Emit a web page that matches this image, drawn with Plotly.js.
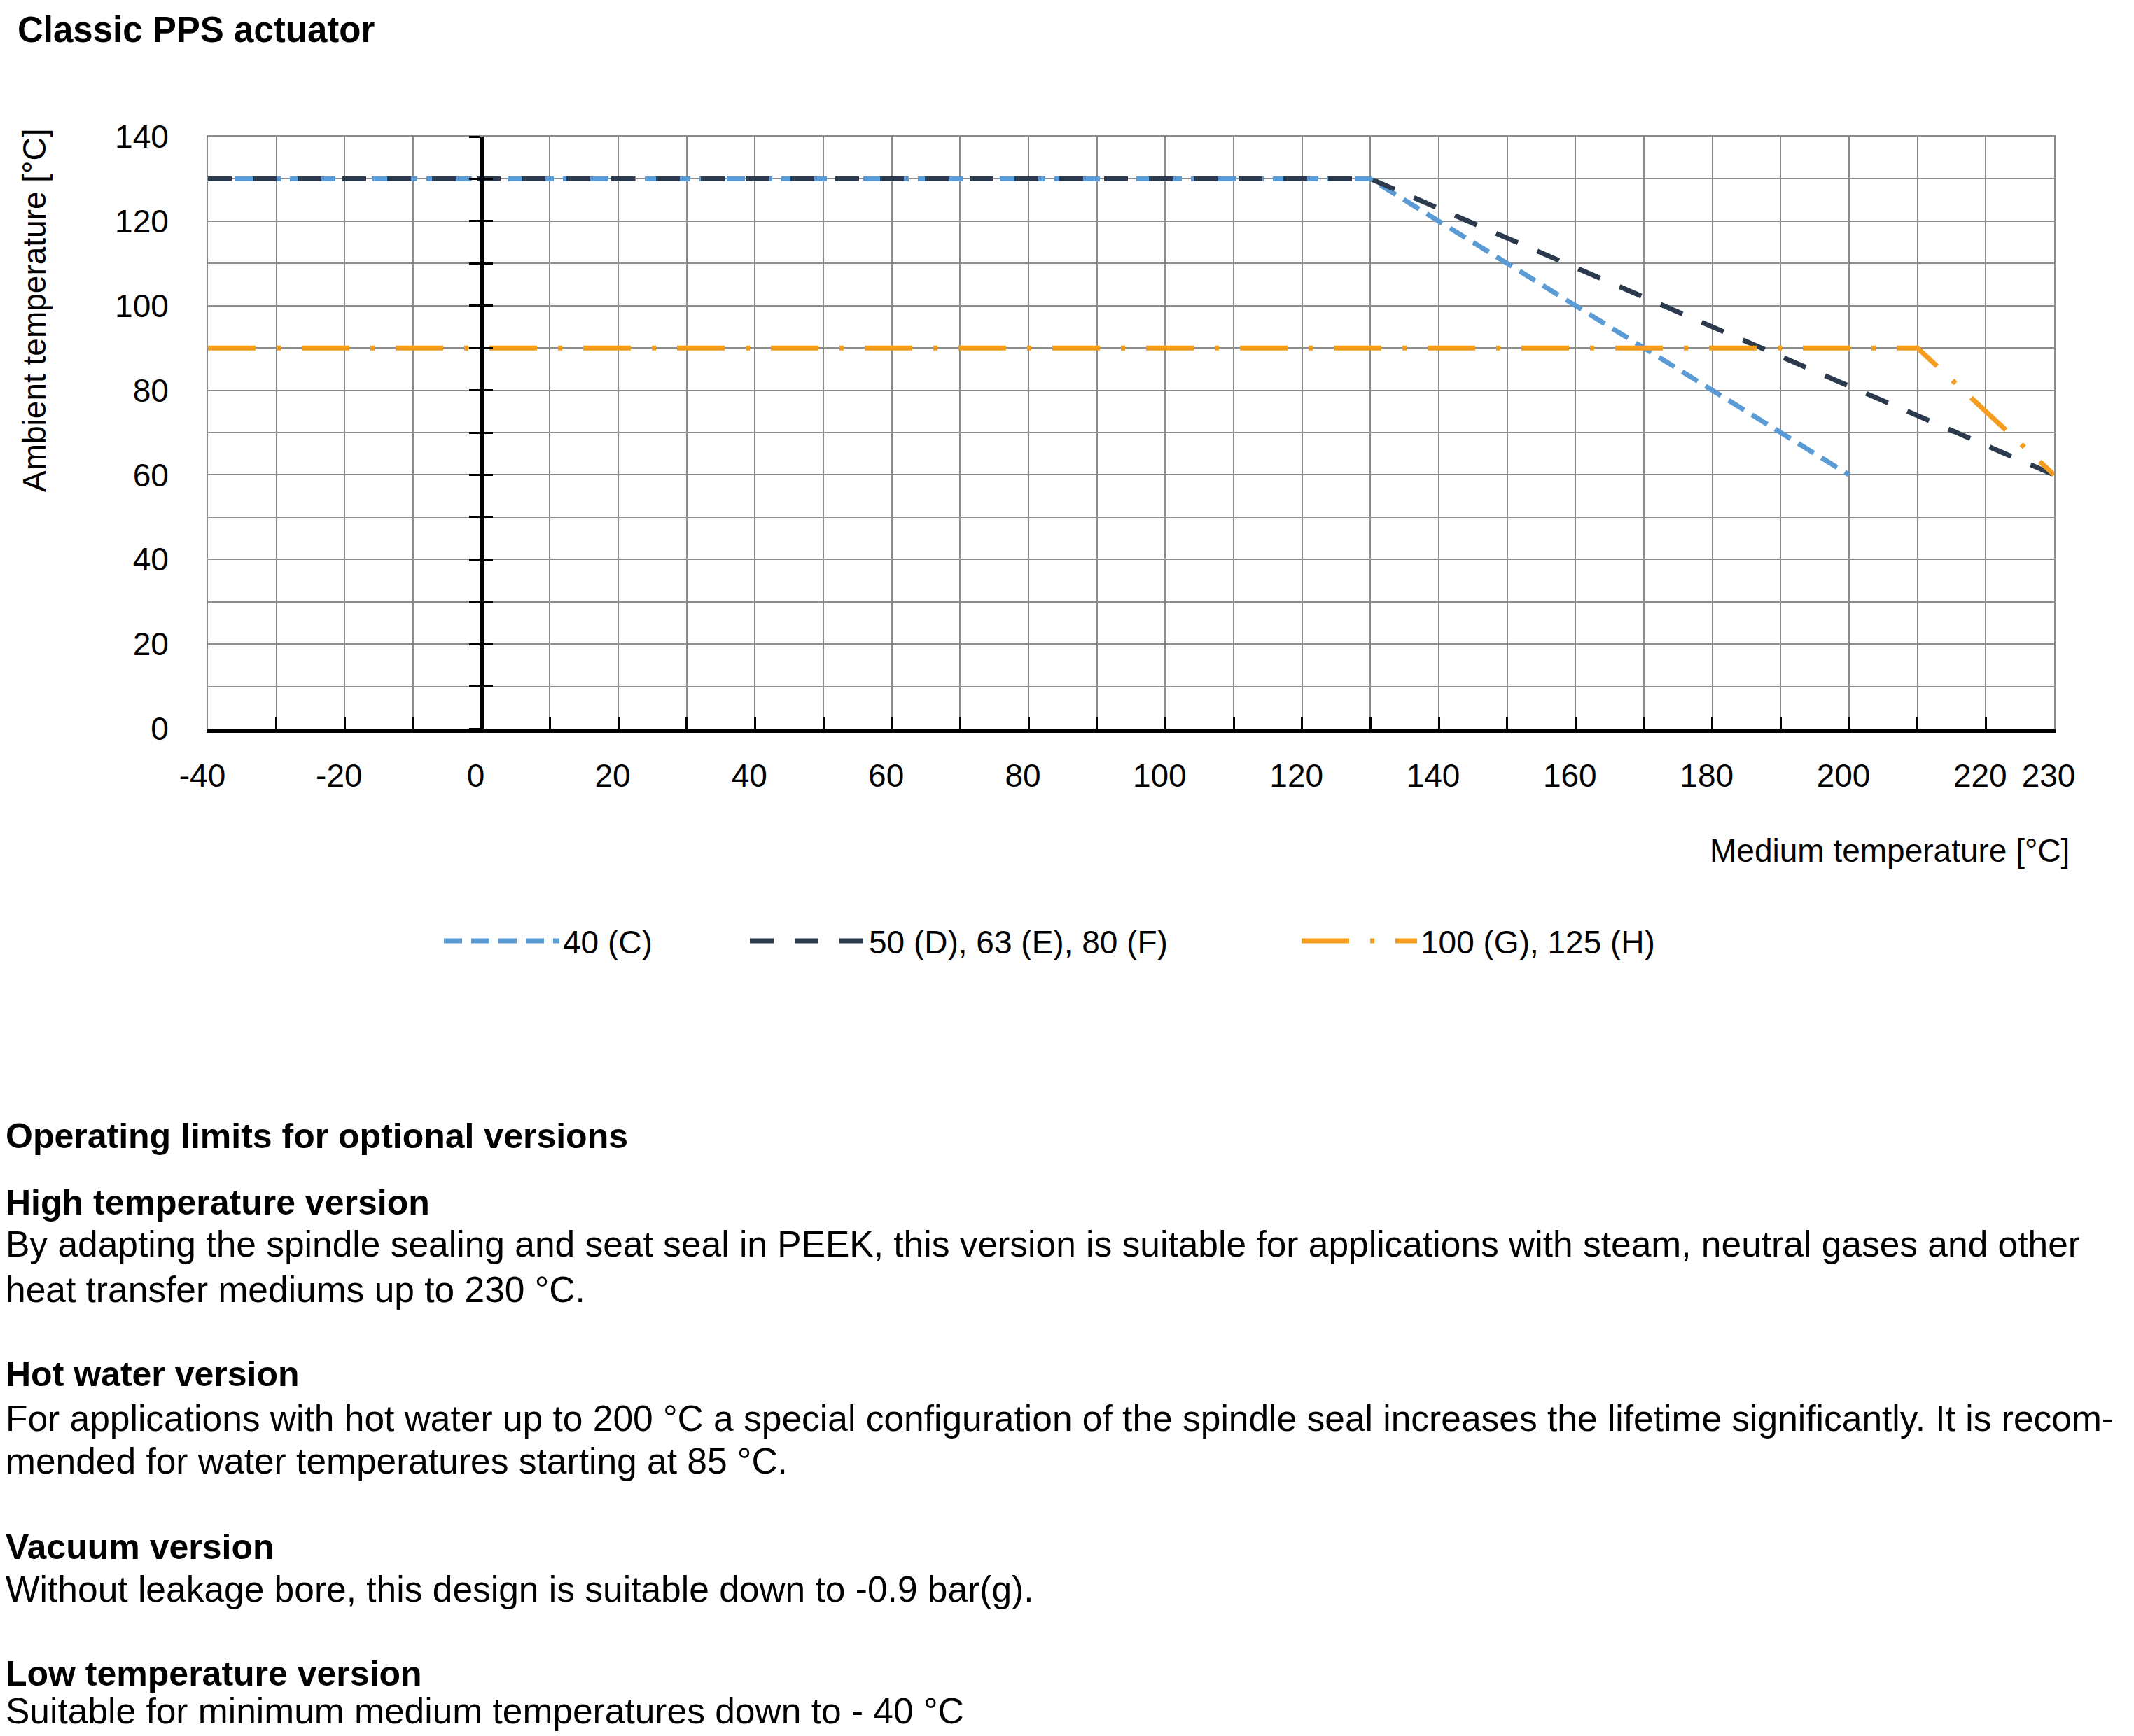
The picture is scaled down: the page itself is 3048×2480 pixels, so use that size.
<!DOCTYPE html>
<html><head><meta charset="utf-8">
<script src="https://cdn.plot.ly/plotly-3.0.1.min.js"></script>
<style>html,body{margin:0;padding:0;background:#fff}</style>
</head><body><div id="chart" style="width:3048px;height:2480px"></div>
<script>
// ---- data ----
const seriesNames = ['40 (C)', '50 (D), 63 (E), 80 (F)', '100 (G), 125 (H)'];
const xC = [-40, 130, 200];
const yC = [130, 130, 60];
const xDEF = [-40, 130, 230];
const yDEF = [130, 130, 60];
const xGH = [-40, 210, 230];
const yGH = [90, 90, 60];
const xTickVals = [-40, -20, 0, 20, 40, 60, 80, 100, 120, 140, 160, 180, 200, 220, 230];
const xTickText = ['-40', '-20', '0', '20', '40', '60', '80', '100', '120', '140', '160', '180', '200', '220', '230'];
const yTickVals = [0, 20, 40, 60, 80, 100, 120, 140];
const yTickText = ['0', '20', '40', '60', '80', '100', '120', '140'];
const chartTitle = 'Classic PPS actuator';
const xTitle = 'Medium temperature [°C]';
const yTitle = 'Ambient temperature [°C]';
const textLines = [
  {t: 'Operating limits for optional versions', b: true},
  {t: 'High temperature version', b: true},
  {t: 'By adapting the spindle sealing and seat seal in PEEK, this version is suitable for applications with steam, neutral gases and other', b: false},
  {t: 'heat transfer mediums up to 230 °C.', b: false},
  {t: 'Hot water version', b: true},
  {t: 'For applications with hot water up to 200 °C a special configuration of the spindle seal increases the lifetime significantly. It is recom-', b: false},
  {t: 'mended for water temperatures starting at 85 °C.', b: false},
  {t: 'Vacuum version', b: true},
  {t: 'Without leakage bore, this design is suitable down to -0.9 bar(g).', b: false},
  {t: 'Low temperature version', b: true},
  {t: 'Suitable for minimum medium temperatures down to - 40 °C', b: false}
];
// baselines of the text lines (px from top)
const textBaselines = [1640, 1735, 1795, 1860, 1980, 2044, 2105, 2227, 2288, 2408, 2462];

// ---- layout geometry ----
const W = 3048, H = 2480, L = 297, R = 2934, T = 195, B = 1041;
const px = x => (x - L) / (R - L);
const py = y => (B - y) / (B - T);
const FONT = 'Liberation Sans, Arial, Helvetica, sans-serif';
const GRID = '#8c8c8c';
const HEAD_SIZE = 50, BODY_SIZE = 51.5;
const MID = 0.3465; // baseline -> box middle, in em

const traces = [
  {x: xC, y: yC, name: seriesNames[0], mode: 'lines', legend: 'legend',
   line: {color: '#5b9bd5', width: 7, dash: '26px,13px'}},
  {x: xDEF, y: yDEF, name: seriesNames[1], mode: 'lines', legend: 'legend2',
   line: {color: '#2b3a4c', width: 7, dash: '34px,30px'}},
  {x: xGH, y: yGH, name: seriesNames[2], mode: 'lines', legend: 'legend3',
   line: {color: '#f49d1f', width: 7, dash: '68px,30px,6px,30px'}},
  {x: [], y: [], yaxis: 'y2', showlegend: false, hoverinfo: 'skip'},
  {x: [], y: [], yaxis: 'y3', showlegend: false, hoverinfo: 'skip'},
  {x: [], y: [], xaxis: 'x2', showlegend: false, hoverinfo: 'skip'}
];

const legendBase = {
  orientation: 'h', xref: 'container', yref: 'container', xanchor: 'left', yanchor: 'middle',
  font: {family: FONT, size: 46, color: '#000'}, bgcolor: 'rgba(0,0,0,0)', itemwidth: 165,
  borderwidth: 0
};

const annotations = [
  {text: '<b>' + chartTitle + '</b>', x: px(23), y: py(60 - 51 * MID), xanchor: 'left', yanchor: 'middle',
   font: {family: FONT, size: 51, color: '#000'}},
  {text: yTitle, x: px(49), y: py(443), xanchor: 'center', yanchor: 'middle', textangle: -90,
   font: {family: FONT, size: 46, color: '#000'}},
  {text: xTitle, x: px(2958), y: py(1215), xanchor: 'right', yanchor: 'middle',
   font: {family: FONT, size: 46, color: '#000'}}
];
textLines.forEach((ln, i) => {
  const fs = ln.b ? HEAD_SIZE : BODY_SIZE;
  annotations.push({text: ln.b ? '<b>' + ln.t + '</b>' : ln.t, x: px(6), y: py(textBaselines[i] - fs * MID),
    xanchor: 'left', yanchor: 'middle', font: {family: FONT, size: fs, color: '#000'}});
});
annotations.forEach(a => { a.xref = 'paper'; a.yref = 'paper'; a.showarrow = false; });

const layout = {
  width: W, height: H,
  margin: {l: L, r: W - R, t: T, b: H - B, pad: 0},
  paper_bgcolor: '#fff', plot_bgcolor: '#fff',
  font: {family: FONT, size: 46, color: '#000'},
  xaxis: {
    range: [-40, 230], tickmode: 'array', tickvals: xTickVals, ticktext: xTickText,
    showgrid: true, gridcolor: GRID, gridwidth: 2,
    showline: true, linecolor: '#000', linewidth: 6,
    ticks: 'inside', ticklen: 17, tickwidth: 3, tickcolor: '#000',
    ticklabelstandoff: 22, ticklabelshift: -8,
    minor: {dtick: 10, tick0: 0, showgrid: true, gridcolor: GRID, gridwidth: 2,
            ticks: 'inside', ticklen: 17, tickwidth: 3, tickcolor: '#000'},
    zeroline: false, tickfont: {family: FONT, size: 46, color: '#000'}
  },
  xaxis2: {overlaying: 'x', side: 'top', anchor: 'y', range: [-40, 230], showline: true,
    linecolor: GRID, linewidth: 2, ticks: '', showticklabels: false, showgrid: false, zeroline: false},
  yaxis: {
    range: [0, 140], tickmode: 'array', tickvals: yTickVals, ticktext: yTickText,
    showgrid: true, gridcolor: GRID, gridwidth: 2,
    minor: {dtick: 10, tick0: 0, showgrid: true, gridcolor: GRID, gridwidth: 2},
    showline: true, linecolor: GRID, linewidth: 2, mirror: true,
    ticks: '', ticklabelstandoff: 45, zeroline: false,
    tickfont: {family: FONT, size: 46, color: '#000'}
  },
  yaxis2: {overlaying: 'y', anchor: 'free', position: 40 / 270, range: [0, 140],
    showline: true, linecolor: '#000', linewidth: 6, ticks: 'outside', ticklen: 15, tickwidth: 3,
    tickcolor: '#000', tickmode: 'linear', tick0: 0, dtick: 10, showticklabels: false,
    showgrid: false, zeroline: false},
  yaxis3: {overlaying: 'y', anchor: 'free', position: 40 / 270, range: [0, 140],
    showline: false, ticks: 'inside', ticklen: 15, tickwidth: 3,
    tickcolor: '#000', tickmode: 'linear', tick0: 0, dtick: 10, showticklabels: false,
    showgrid: false, zeroline: false},
  legend: Object.assign({}, legendBase, {x: 629 / W, y: 1 - 1344 / H}),
  legend2: Object.assign({}, legendBase, {x: 1066 / W, y: 1 - 1344 / H}),
  legend3: Object.assign({}, legendBase, {x: 1854 / W, y: 1 - 1344 / H}),
  annotations: annotations,
  showlegend: true
};

Plotly.newPlot('chart', traces, layout, {staticPlot: true, displayModeBar: false});
</script>
</body></html>
